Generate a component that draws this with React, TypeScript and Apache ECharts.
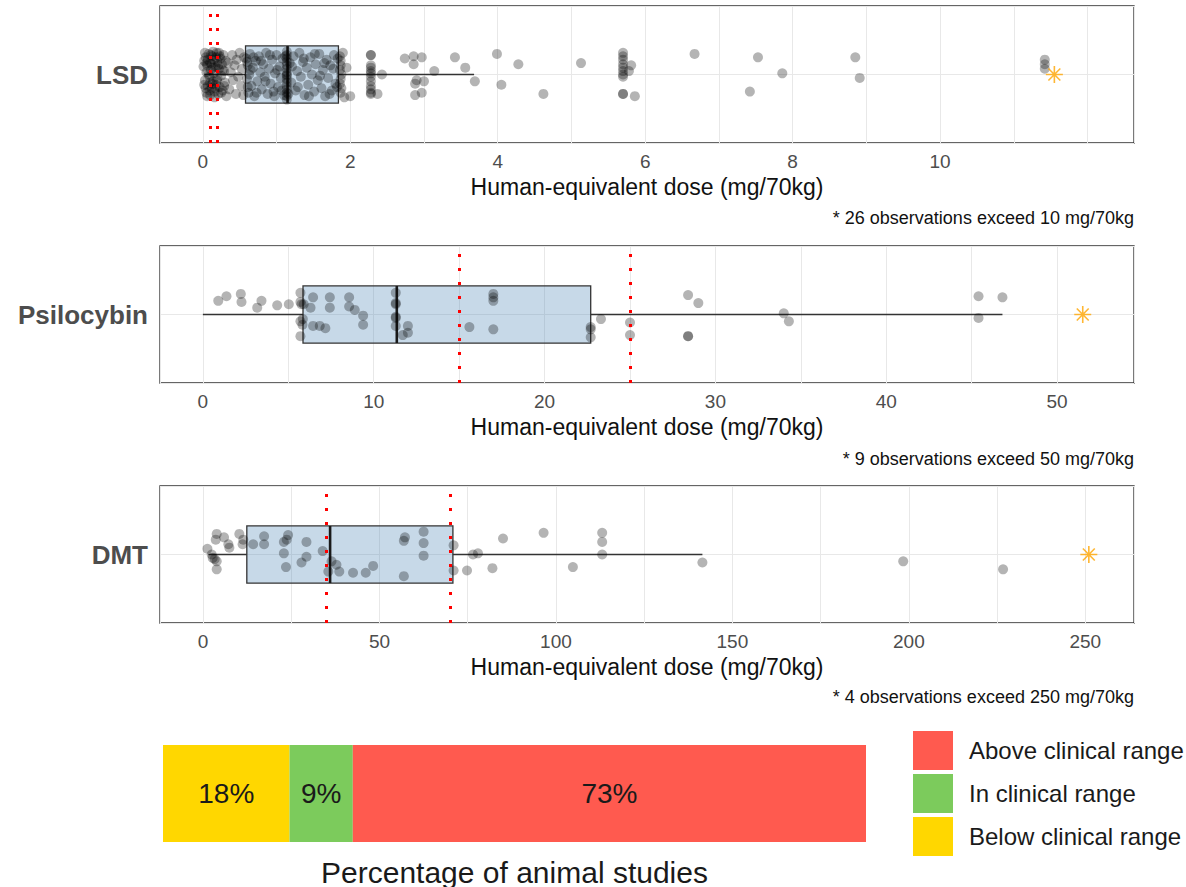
import React, { useEffect, useRef } from 'react';
import * as echarts from 'echarts';

const FONT = "'Liberation Sans', Arial, Helvetica, sans-serif";

const drugs = ['LSD', 'Psilocybin', 'DMT'];

// Each point: [human-equivalent dose (mg/70kg), vertical jitter around the row]
const lsdPoints: [number, number][] = [
  [0.02, 0.12], [0.03, -0.05], [0.04, 0.15], [0.05, -0.16], [0.05, 0.02], [0.06, 0.08], [0.07, -0.1], [0.08, 0.18],
  [0.09, -0.02], [0.1, 0.1], [0.1, -0.18], [0.11, 0.04], [0.12, -0.12], [0.13, 0.16], [0.14, -0.06], [0.15, 0.01],
  [0.15, 0.13], [0.16, -0.15], [0.17, 0.07], [0.18, -0.09], [0.19, 0.19], [0.2, -0.03], [0.2, 0.11], [0.21, -0.17],
  [0.22, 0.05], [0.23, -0.11], [0.24, 0.14], [0.25, -0.01], [0.26, 0.09], [0.27, -0.14], [0.28, 0.17], [0.29, 0.03],
  [0.3, -0.07], [0.31, 0.12], [0.32, -0.19], [0.04, -0.12], [0.08, 0.0], [0.12, 0.09], [0.16, -0.2], [0.22, 0.19],
  [0.01, 0.07], [0.03, 0.19], [0.06, -0.19], [0.07, 0.13], [0.09, -0.14], [0.11, 0.17], [0.13, -0.08], [0.14, 0.06],
  [0.17, -0.12], [0.18, 0.15], [0.19, -0.05], [0.21, 0.08], [0.23, 0.16], [0.25, -0.16], [0.27, 0.04], [0.29, -0.1],
  [0.02, -0.09], [0.05, 0.1], [0.1, -0.07], [0.14, 0.2],
  [0.34, 0.1], [0.36, -0.13], [0.38, 0.02], [0.4, 0.17], [0.41, -0.05], [0.43, 0.08], [0.45, -0.17], [0.46, 0.13],
  [0.48, -0.02], [0.5, 0.19], [0.52, -0.1], [0.53, 0.05], [0.55, -0.18], [0.56, 0.15],
  [0.59, 0.14], [0.6, -0.04], [0.61, 0.08], [0.62, -0.16], [0.63, 0.0], [0.64, 0.18], [0.66, -0.1], [0.68, 0.06],
  [0.7, -0.19], [0.72, 0.12], [0.74, -0.06], [0.76, 0.16], [0.78, 0.02], [0.8, -0.13], [0.82, 0.09], [0.84, -0.02],
  [0.86, 0.19], [0.88, -0.17], [0.9, 0.05], [0.92, -0.08], [0.94, 0.13], [0.96, -0.15], [0.98, 0.01], [1.0, 0.17],
  [1.02, -0.11], [1.04, 0.07], [1.06, -0.03], [1.08, 0.14], [1.1, -0.18],
  [0.6, 0.11], [0.61, -0.11], [0.65, 0.04], [0.69, 0.15], [0.73, -0.16], [0.79, 0.12], [0.85, -0.06], [0.91, 0.17],
  [0.97, -0.19], [1.01, 0.04], [1.07, -0.14], [1.12, 0.16], [1.16, -0.17], [1.21, 0.07], [1.29, -0.11], [1.37, 0.14],
  [1.44, -0.19], [1.52, 0.18], [1.59, -0.01], [1.65, 0.1], [1.72, -0.17], [1.77, 0.05], [1.82, -0.11], [1.83, 0.14],
  [1.14, 0.2], [1.14, 0.17], [1.14, 0.14], [1.14, 0.11], [1.14, 0.08], [1.14, 0.05], [1.14, 0.02], [1.14, -0.01],
  [1.14, -0.04], [1.14, -0.07], [1.14, -0.1], [1.14, -0.13], [1.14, -0.16], [1.14, -0.19], [1.14, -0.22], [1.14, 0.0],
  [1.18, 0.1], [1.2, -0.07], [1.23, 0.16], [1.26, -0.14], [1.28, 0.03], [1.31, 0.19], [1.33, -0.02], [1.36, 0.11],
  [1.38, -0.18], [1.41, 0.06], [1.43, -0.09], [1.46, 0.15], [1.48, 0.0], [1.51, -0.15], [1.53, 0.09], [1.56, -0.05],
  [1.58, 0.18], [1.61, -0.12], [1.63, 0.04], [1.66, -0.19], [1.68, 0.13], [1.7, -0.03], [1.73, 0.08], [1.75, -0.14],
  [1.78, 0.17], [1.8, -0.08],
  [1.86, 0.16], [1.87, 0.12], [1.87, 0.08], [1.86, 0.04], [1.88, 0.0], [1.87, -0.04], [1.86, -0.08], [1.88, -0.12],
  [1.87, -0.16], [1.9, 0.19], [1.92, -0.2], [1.95, 0.06], [2.0, -0.19],
  [2.28, 0.17], [2.28, 0.17], [2.28, 0.08], [2.28, 0.06], [2.28, 0.03], [2.28, 0.01], [2.28, -0.02], [2.28, -0.06],
  [2.28, -0.1], [2.28, -0.13], [2.28, -0.16], [2.28, -0.17],
  [2.43, 0.0], [2.37, -0.17], [2.74, 0.14], [2.86, 0.16], [2.86, 0.09], [2.97, 0.15], [3.14, 0.03], [2.9, -0.05],
  [3.0, -0.06], [2.88, -0.08], [2.88, -0.18], [2.97, -0.16], [3.42, 0.15], [3.56, 0.06], [3.69, -0.06], [3.99, 0.18],
  [4.05, -0.09], [4.28, 0.09], [4.62, -0.17], [5.13, 0.1],
  [5.7, 0.19], [5.7, 0.16], [5.7, 0.13], [5.7, 0.09], [5.7, 0.06], [5.7, 0.03], [5.7, 0.0], [5.7, -0.02],
  [5.7, -0.17], [5.7, -0.17],
  [5.81, 0.08], [5.78, 0.03], [5.86, -0.19], [6.67, 0.18], [7.53, 0.15], [7.86, 0.01], [7.42, -0.15], [8.85, 0.15],
  [8.91, -0.03], [11.42, 0.13], [11.42, 0.09], [11.42, 0.05],
];

const psilocybinPoints: [number, number][] = [
  [0.9, 0.12], [1.38, 0.16], [2.22, 0.18], [2.26, 0.11], [3.43, 0.12], [3.18, 0.06], [4.35, 0.08], [5.03, 0.09],
  [5.71, 0.19], [5.71, 0.11], [5.77, 0.09], [5.9, 0.09], [5.83, -0.09], [5.71, -0.06], [5.71, -0.19], [5.85, -0.04],
  [6.3, 0.06], [6.45, 0.15], [6.45, -0.1], [6.84, -0.1], [7.17, -0.12], [7.43, 0.15], [7.43, 0.06], [8.56, 0.15],
  [8.56, 0.07], [8.89, 0.04], [9.38, -0.01], [9.38, -0.09], [11.29, 0.19], [11.29, 0.1], [11.29, 0.09], [11.29, -0.02],
  [11.29, -0.03], [11.29, -0.1], [12.0, -0.1], [12.0, -0.16], [11.7, -0.18], [15.6, -0.11], [17.0, 0.18], [17.0, 0.15],
  [17.0, 0.12], [17.0, -0.13], [22.7, -0.11], [22.7, -0.13], [22.7, -0.2], [23.3, -0.04], [25.0, -0.07], [25.0, -0.18],
  [28.4, 0.17], [29.0, 0.1], [28.4, -0.19], [28.4, -0.19], [34.0, 0.01], [34.3, -0.06], [45.4, 0.16], [45.4, -0.03],
  [46.8, 0.15],
];

const dmtPoints: [number, number][] = [
  [1.23, 0.05], [2.45, 0.0], [2.74, -0.03], [3.87, 0.18], [3.6, 0.13], [3.87, -0.06], [3.87, -0.13], [3.3, -0.04],
  [5.94, 0.15], [7.17, 0.09], [7.45, 0.06], [10.28, 0.18], [11.4, 0.13], [11.2, 0.09], [14.2, 0.09], [17.3, 0.16],
  [17.3, 0.09], [22.9, 0.11], [24.1, 0.17], [23.7, 0.13], [22.9, 0.01], [23.5, -0.11], [27.9, -0.07], [29.3, -0.02],
  [29.3, 0.11], [33.9, 0.03], [36.4, -0.06], [35.5, -0.15], [37.8, -0.09], [38.6, -0.15], [42.5, -0.16], [46.1, -0.16],
  [48.2, -0.1], [57.2, 0.15], [56.9, 0.12], [56.9, -0.19], [62.5, 0.2], [62.5, 0.1], [62.5, -0.01], [71.0, 0.08],
  [71.0, -0.14], [74.8, -0.14], [76.5, 0.0], [77.9, 0.01], [82.0, -0.12], [85.0, 0.14], [96.5, 0.19], [104.8, -0.11],
  [113.1, 0.19], [113.1, 0.11], [113.1, 0.0], [141.5, -0.07], [198.4, -0.06], [226.7, -0.13],
];

// Box statistics: [lower whisker, Q1, median, Q3, upper whisker]
const lsdBox = [0.02, 0.58, 1.15, 1.84, 3.68];
const psilocybinBox = [0, 5.86, 11.35, 22.7, 46.8];
const dmtBox = [1.5, 12.4, 36, 70.8, 141.5];

// Clinical dose range per drug (mg/70kg)
const clinicalRanges = [[0.1, 0.2], [15, 25], [35, 70]];

// Observations beyond the axis cap, shown as a single marker
const capMarkers = [11.55, 51.5, 251];
const capCounts = [26, 9, 4];
const capThresholds = [10, 50, 250];

// Axis extents and tick steps
const axisMin = [-0.58, -2.51, -12.2];
const axisMax = [12.63, 54.5, 263.8];
const gridStep = [1, 5, 25];
const labelStep = [2, 10, 50];
const labelMax = [10, 50, 250];

// Share of animal studies relative to the clinical range
const pctCategories = ['Below clinical range', 'In clinical range', 'Above clinical range'];
const pctValues = [18, 9, 73];
const pctColors = ['#FFD700', '#7CCB5C', '#FF5A4F'];

const pointSets = [lsdPoints, psilocybinPoints, dmtPoints];
const boxSets = [lsdBox, psilocybinBox, dmtBox];

const PANEL_TOPS = [6, 246, 486];
const PANEL_HEIGHT = 137;
const NOTE_Y = [218, 459, 697];
const STAR_PATH = 'path://M10 0 L10 20 M0 10 L20 10 M3 3 L17 17 M3 17 L17 3';

function buildOption() {
  const grid: any[] = [];
  const xAxis: any[] = [];
  const yAxis: any[] = [];
  const series: any[] = [];
  const graphic: any[] = [];

  drugs.forEach((drug, i) => {
    grid.push({
      left: 160, top: PANEL_TOPS[i], width: 974, height: PANEL_HEIGHT,
      show: true, borderColor: '#333', borderWidth: 1.3, backgroundColor: 'transparent',
      containLabel: false, outerBoundsMode: 'none',
    });
    const step = labelStep[i];
    const maxLab = labelMax[i];
    xAxis.push({
      type: 'value', gridIndex: i, min: axisMin[i], max: axisMax[i],
      minInterval: gridStep[i], maxInterval: gridStep[i],
      axisLine: { show: false }, axisTick: { show: false },
      axisLabel: {
        color: '#4d4d4d', fontSize: 19, fontFamily: FONT, margin: 9,
        formatter: (v: number) => {
          const r = Math.round(v / step) * step;
          return Math.abs(v - r) < 1e-6 && r >= 0 && r <= maxLab ? String(r) : '';
        },
      },
      splitLine: { show: true, lineStyle: { color: '#e8e8e8', width: 1 } },
      name: 'Human-equivalent dose (mg/70kg)', nameLocation: 'middle', nameGap: 32,
      nameTextStyle: { fontSize: 23, color: '#111', fontFamily: FONT },
    });
    yAxis.push({
      type: 'value', gridIndex: i, min: 0.4, max: 1.6, minInterval: 1, maxInterval: 1,
      axisLine: { show: false }, axisTick: { show: false },
      axisLabel: {
        formatter: (v: number) => (Math.abs(v - 1) < 1e-6 ? drug : ''),
        fontWeight: 'bold', fontSize: 26, color: '#4d4d4d', margin: 12, fontFamily: FONT,
      },
      splitLine: { show: true, lineStyle: { color: '#e8e8e8', width: 1 } },
    });

    // Box and whiskers
    series.push({
      type: 'custom', xAxisIndex: i, yAxisIndex: i, z: 1, silent: true,
      data: [[...boxSets[i], 1]],
      encode: { x: [0, 1, 2, 3, 4], y: 5 },
      renderItem: (_p: any, api: any) => {
        const mn = api.value(0), q1 = api.value(1), md = api.value(2), q3 = api.value(3), mx = api.value(4);
        const [x0, yc] = api.coord([mn, 1]);
        const x1 = api.coord([q1, 1])[0];
        const x2 = api.coord([md, 1])[0];
        const x3 = api.coord([q3, 1])[0];
        const x4 = api.coord([mx, 1])[0];
        const yt = api.coord([q1, 1.25])[1];
        const yb = api.coord([q1, 0.75])[1];
        const stroke = '#333';
        return {
          type: 'group',
          children: [
            { type: 'line', shape: { x1: x0, y1: yc, x2: x1, y2: yc }, style: { stroke, lineWidth: 1.3 } },
            { type: 'line', shape: { x1: x3, y1: yc, x2: x4, y2: yc }, style: { stroke, lineWidth: 1.3 } },
            {
              type: 'rect', shape: { x: x1, y: yt, width: x3 - x1, height: yb - yt },
              style: { fill: 'rgba(70,130,180,0.3)', stroke, lineWidth: 1.3 },
            },
            { type: 'line', shape: { x1: x2, y1: yt, x2: x2, y2: yb }, style: { stroke: '#1a1a1a', lineWidth: 2.6 } },
          ],
        };
      },
    });

    // Individual observations
    series.push({
      type: 'scatter', xAxisIndex: i, yAxisIndex: i, z: 2, silent: true,
      symbol: 'circle', symbolSize: 10,
      itemStyle: { color: 'rgba(0,0,0,0.37)', borderWidth: 0 },
      data: pointSets[i].map(([d, j]) => [d, 1 + j]),
    });

    // Capped observations marker plus clinical range lines
    series.push({
      type: 'scatter', xAxisIndex: i, yAxisIndex: i, z: 3, silent: true,
      symbol: STAR_PATH, symbolSize: 17,
      itemStyle: { color: '#FFA500', borderColor: '#FFA500', borderWidth: 1.6 },
      data: [[capMarkers[i], 1]],
      markLine: {
        silent: true, symbol: ['none', 'none'], label: { show: false },
        lineStyle: { color: '#FF0000', type: [3, 11], width: 3, cap: 'butt' },
        emphasis: { disabled: true },
        data: clinicalRanges[i].map((v) => ({ xAxis: v })),
      },
    });

    graphic.push({
      type: 'text', x: 1134, y: NOTE_Y[i], silent: true,
      style: {
        text: `* ${capCounts[i]} observations exceed ${capThresholds[i]} mg/70kg`,
        textAlign: 'right', textVerticalAlign: 'middle',
        fontSize: 18, fontFamily: FONT, fill: '#111',
      },
    });
  });

  // Stacked share bar
  grid.push({ left: 163, top: 745, width: 703, height: 97, show: false, containLabel: false, outerBoundsMode: 'none' });
  xAxis.push({
    type: 'value', gridIndex: 3, min: 0, max: 100,
    axisLine: { show: false }, axisTick: { show: false }, axisLabel: { show: false }, splitLine: { show: false },
    name: 'Percentage of animal studies', nameLocation: 'middle', nameGap: 15,
    nameTextStyle: { fontSize: 30, color: '#1a1a1a', fontFamily: FONT },
  });
  yAxis.push({ type: 'category', gridIndex: 3, data: ['Studies'], show: false });
  pctCategories.forEach((cat, j) => {
    series.push({
      type: 'bar', name: cat, xAxisIndex: 3, yAxisIndex: 3, stack: 'share',
      barWidth: '100%', silent: true,
      itemStyle: { color: pctColors[j] },
      label: { show: true, position: 'inside', formatter: '{c}%', fontSize: 28, color: '#1a1a1a', fontFamily: FONT },
      data: [pctValues[j]],
    });
  });

  return {
    animation: false,
    backgroundColor: '#ffffff',
    grid, xAxis, yAxis, series, graphic,
    legend: {
      data: [...pctCategories].reverse(),
      left: 913, top: 731, orient: 'vertical', padding: 0,
      itemWidth: 40, itemHeight: 39, itemGap: 4, icon: 'rect', selectedMode: false,
      textStyle: { fontSize: 24, color: '#1a1a1a', fontFamily: FONT, padding: [0, 0, 0, 11] },
    },
  };
}

export default function App() {
  const ref = useRef<HTMLDivElement>(null);
  useEffect(() => {
    if (!ref.current) return;
    const chart = echarts.init(ref.current, undefined, { renderer: 'svg' });
    chart.setOption(buildOption() as any);
    return () => chart.dispose();
  }, []);
  return (
    <div
      ref={ref}
      style={{ position: 'absolute', left: 0, top: 0, width: 1186, height: 887, background: '#fff' }}
    />
  );
}
